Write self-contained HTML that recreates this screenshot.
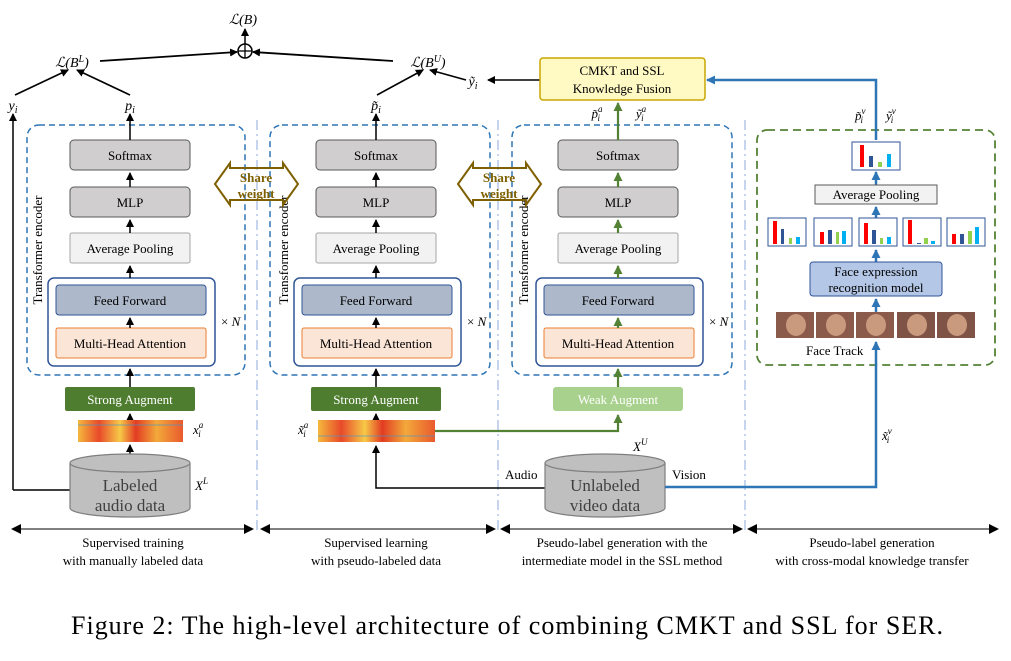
<!DOCTYPE html>
<html><head><meta charset="utf-8"><style>
body{margin:0;background:#fff}
svg text{font-family:"Liberation Serif",serif}
</style></head><body>
<svg width="1011" height="656" viewBox="0 0 1011 656" xmlns="http://www.w3.org/2000/svg">
<defs>
<marker id="ak" markerWidth="8" markerHeight="8" refX="7" refY="4" orient="auto" markerUnits="userSpaceOnUse"><path d="M0,0L8,4L0,8z" fill="#000"/></marker>
<marker id="ab" markerWidth="9" markerHeight="9" refX="8" refY="4.5" orient="auto" markerUnits="userSpaceOnUse"><path d="M0,0L9,4.5L0,9z" fill="#2e75b6"/></marker>
<marker id="ag" markerWidth="9" markerHeight="9" refX="8" refY="4.5" orient="auto" markerUnits="userSpaceOnUse"><path d="M0,0L9,4.5L0,9z" fill="#548235"/></marker>
<marker id="as" markerWidth="10" markerHeight="10" refX="9" refY="5" orient="auto-start-reverse" markerUnits="userSpaceOnUse"><path d="M0,0L10,5L0,10z" fill="#000"/></marker>
<linearGradient id="spec" x1="0" x2="1"><stop offset="0" stop-color="#f5b83d"/><stop offset=".2" stop-color="#e84a2a"/><stop offset=".4" stop-color="#f7c948"/><stop offset=".55" stop-color="#e23c22"/><stop offset=".75" stop-color="#f3a93b"/><stop offset="1" stop-color="#e9592c"/></linearGradient>
</defs>

<g stroke="#b4c7e7" stroke-width="1.5" stroke-dasharray="10,4,2,4">
<line x1="257" y1="120" x2="257" y2="530"/><line x1="498" y1="120" x2="498" y2="530"/><line x1="745" y1="120" x2="745" y2="530"/>
</g>

<text x="243" y="24" font-size="14" text-anchor="middle" font-style="italic">ℒ(B)</text>
<circle cx="245" cy="51" r="7" fill="none" stroke="#000" stroke-width="1.5"/>
<line x1="238" y1="51" x2="252" y2="51" stroke="#000" stroke-width="1.3"/><line x1="245" y1="44" x2="245" y2="58" stroke="#000" stroke-width="1.3"/>
<line x1="245" y1="44" x2="245" y2="29" stroke="#000" stroke-width="1.5" marker-end="url(#ak)"/>
<line x1="100" y1="61" x2="237" y2="52" stroke="#000" stroke-width="1.8" marker-end="url(#ak)"/>
<line x1="393" y1="61" x2="253" y2="52" stroke="#000" stroke-width="1.8" marker-end="url(#ak)"/>
<text x="72" y="67" font-size="14" font-style="italic" text-anchor="middle">ℒ(B<tspan dy="-5" font-size="10">L</tspan><tspan dy="5">)</tspan></text>
<text x="428" y="67" font-size="14" font-style="italic" text-anchor="middle">ℒ(B<tspan dy="-5" font-size="10">U</tspan><tspan dy="5">)</tspan></text>
<line x1="15" y1="95" x2="68" y2="70" stroke="#000" stroke-width="1.6" marker-end="url(#ak)"/>
<line x1="130" y1="95" x2="77" y2="70" stroke="#000" stroke-width="1.6" marker-end="url(#ak)"/>
<line x1="377" y1="95" x2="423" y2="70" stroke="#000" stroke-width="1.6" marker-end="url(#ak)"/>
<line x1="466" y1="80" x2="430" y2="70" stroke="#000" stroke-width="1.6" marker-end="url(#ak)"/>
<text x="13" y="110" font-size="14" font-style="italic" text-anchor="middle">y<tspan font-size="10" dy="3">i</tspan></text>
<text x="130" y="110" font-size="14" font-style="italic" text-anchor="middle">p<tspan font-size="10" dy="3">i</tspan></text>
<text x="376" y="110" font-size="14" font-style="italic" text-anchor="middle">p̃<tspan font-size="10" dy="3">i</tspan></text>
<text x="473" y="86" font-size="14" font-style="italic" text-anchor="middle">ỹ<tspan font-size="10" dy="3">i</tspan></text>
<line x1="540" y1="80" x2="488" y2="80" stroke="#000" stroke-width="1.6" marker-end="url(#ak)"/>

<rect x="540" y="58" width="165" height="42" rx="3" fill="#fff9c4" stroke="#c9a600" stroke-width="1.5"/>
<text x="622" y="75" font-size="13" text-anchor="middle">CMKT and SSL</text>
<text x="622" y="93" font-size="13" text-anchor="middle">Knowledge Fusion</text>
<text x="597" y="118" font-size="13" font-style="italic" text-anchor="middle">p̃<tspan font-size="9" dy="-6">a</tspan><tspan font-size="9" dx="-5" dy="9">i</tspan></text>
<text x="641" y="118" font-size="13" font-style="italic" text-anchor="middle">ỹ<tspan font-size="9" dy="-6">a</tspan><tspan font-size="9" dx="-5" dy="9">i</tspan></text>

<g fill="none" stroke="#2e75b6" stroke-width="1.5" stroke-dasharray="6,4">
<rect x="27" y="125" width="218" height="250" rx="12"/>
<rect x="270" y="125" width="220" height="250" rx="12"/>
<rect x="512" y="125" width="220" height="250" rx="12"/>
</g>
<rect x="757" y="130" width="238" height="235" rx="10" fill="none" stroke="#548235" stroke-width="1.8" stroke-dasharray="8,5"/>

<g id="c1">
<g font-size="13" text-anchor="middle">
<rect x="70" y="140" width="120" height="30" rx="4" fill="#d0cece" stroke="#595959"/><text x="130" y="160">Softmax</text>
<rect x="70" y="187" width="120" height="30" rx="4" fill="#d0cece" stroke="#595959"/><text x="130" y="207">MLP</text>
<rect x="70" y="233" width="120" height="30" rx="2" fill="#f2f2f2" stroke="#a6a6a6"/><text x="130" y="253">Average Pooling</text>
<rect x="48" y="278" width="167" height="88" rx="6" fill="none" stroke="#2f5597" stroke-width="1.5"/>
<rect x="56" y="285" width="150" height="30" rx="3" fill="#adb9ca" stroke="#2f5597"/><text x="130" y="305">Feed Forward</text>
<rect x="56" y="328" width="150" height="30" rx="2" fill="#fbe5d6" stroke="#ed7d31"/><text x="130" y="348">Multi-Head Attention</text>
</g>
<text x="221" y="326" font-size="13">× <tspan font-style="italic">N</tspan></text>
<text transform="translate(42,250) rotate(-90)" font-size="13" text-anchor="middle">Transformer encoder</text>
<g stroke="#000" stroke-width="1.5">
<line x1="130" y1="328" x2="130" y2="318" marker-end="url(#ak)"/>
<line x1="130" y1="278" x2="130" y2="266" marker-end="url(#ak)"/>
<line x1="130" y1="233" x2="130" y2="220" marker-end="url(#ak)"/>
<line x1="130" y1="187" x2="130" y2="173" marker-end="url(#ak)"/>
<line x1="130" y1="140" x2="130" y2="114" marker-end="url(#ak)"/>
</g>
</g>
<use href="#c1" x="246"/>
<g transform="translate(488,0)">
<g font-size="13" text-anchor="middle">
<rect x="70" y="140" width="120" height="30" rx="4" fill="#d0cece" stroke="#595959"/><text x="130" y="160">Softmax</text>
<rect x="70" y="187" width="120" height="30" rx="4" fill="#d0cece" stroke="#595959"/><text x="130" y="207">MLP</text>
<rect x="70" y="233" width="120" height="30" rx="2" fill="#f2f2f2" stroke="#a6a6a6"/><text x="130" y="253">Average Pooling</text>
<rect x="48" y="278" width="167" height="88" rx="6" fill="none" stroke="#2f5597" stroke-width="1.5"/>
<rect x="56" y="285" width="150" height="30" rx="3" fill="#adb9ca" stroke="#2f5597"/><text x="130" y="305">Feed Forward</text>
<rect x="56" y="328" width="150" height="30" rx="2" fill="#fbe5d6" stroke="#ed7d31"/><text x="130" y="348">Multi-Head Attention</text>
</g>
<text x="221" y="326" font-size="13">× <tspan font-style="italic">N</tspan></text>
<text transform="translate(40,250) rotate(-90)" font-size="13" text-anchor="middle">Transformer encoder</text>
<g stroke="#548235" stroke-width="2.2">
<line x1="130" y1="328" x2="130" y2="318" marker-end="url(#ag)"/>
<line x1="130" y1="278" x2="130" y2="266" marker-end="url(#ag)"/>
<line x1="130" y1="233" x2="130" y2="220" marker-end="url(#ag)"/>
<line x1="130" y1="187" x2="130" y2="173" marker-end="url(#ag)"/>
<line x1="130" y1="140" x2="130" y2="103" marker-end="url(#ag)"/>
<line x1="130" y1="387" x2="130" y2="369" marker-end="url(#ag)"/>
</g>
</g>

<g fill="none" stroke="#7f6000" stroke-width="2">
<polygon points="215,184 230,163 230,168 283,168 283,163 298,184 283,205 283,200 230,200 230,205"/>
<polygon points="458,184 473,163 473,168 526,168 526,163 541,184 526,205 526,200 473,200 473,205"/>
</g>
<g font-size="13" font-weight="bold" fill="#7f6000" text-anchor="middle">
<text x="256" y="182">Share</text><text x="256" y="198">weight</text>
<text x="499" y="182">Share</text><text x="499" y="198">weight</text>
</g>

<g font-size="13" text-anchor="middle" fill="#fff">
<rect x="65" y="387" width="130" height="24" rx="2" fill="#4e7d2f"/><text x="130" y="404">Strong Augment</text>
<rect x="311" y="387" width="130" height="24" rx="2" fill="#4e7d2f"/><text x="376" y="404">Strong Augment</text>
<rect x="553" y="387" width="130" height="24" rx="3" fill="#a9d18e"/><text x="618" y="404">Weak Augment</text>
</g>
<g stroke="#000" stroke-width="1.5">
<line x1="130" y1="387" x2="130" y2="369" marker-end="url(#ak)"/>
<line x1="376" y1="387" x2="376" y2="369" marker-end="url(#ak)"/>
<line x1="130" y1="420" x2="130" y2="414" marker-end="url(#ak)"/>
<line x1="376" y1="420" x2="376" y2="414" marker-end="url(#ak)"/>
<line x1="130" y1="455" x2="130" y2="445" marker-end="url(#ak)"/>
<line x1="13" y1="490" x2="13" y2="114" marker-end="url(#ak)"/>
<polyline points="70,490 13,490" fill="none"/>
<polyline points="545,488 376,488 376,446" fill="none" marker-end="url(#ak)"/>
</g>
<rect x="78" y="420" width="105" height="22" fill="url(#spec)"/>
<rect x="318" y="420" width="117" height="22" fill="url(#spec)"/>
<g stroke="#3a9ad9" stroke-width="1" opacity=".6"><line x1="78" y1="425" x2="183" y2="425"/><line x1="318" y1="436" x2="435" y2="436"/></g>
<text x="193" y="434" font-size="13" font-style="italic">x<tspan font-size="9" dy="-6">a</tspan><tspan font-size="9" dx="-5" dy="9">i</tspan></text>
<text x="298" y="434" font-size="13" font-style="italic">x̃<tspan font-size="9" dy="-6">a</tspan><tspan font-size="9" dx="-5" dy="9">i</tspan></text>
<polyline points="435,431 618,431 618,415" fill="none" stroke="#548235" stroke-width="2.2" marker-end="url(#ag)"/>

<g fill="#bfbfbf" stroke="#7f7f7f" stroke-width="1.2">
<path d="M70,463 L70,508 A60,9 0 0 0 190,508 L190,463"/>
<ellipse cx="130" cy="463" rx="60" ry="9"/>
<path d="M545,463 L545,508 A60,9 0 0 0 665,508 L665,463"/>
<ellipse cx="605" cy="463" rx="60" ry="9"/>
</g>
<g font-size="17" fill="#404040" text-anchor="middle">
<text x="130" y="491">Labeled</text><text x="130" y="511">audio data</text>
<text x="605" y="491">Unlabeled</text><text x="605" y="511">video data</text>
</g>
<text x="195" y="490" font-size="13" font-style="italic">X<tspan font-size="9" dy="-6">L</tspan></text>
<text x="633" y="451" font-size="13" font-style="italic">X<tspan font-size="9" dy="-6">U</tspan></text>
<text x="505" y="479" font-size="13">Audio</text>
<text x="672" y="479" font-size="13">Vision</text>

<polyline points="665,487 876,487 876,342" fill="none" stroke="#2e75b6" stroke-width="2.5" marker-end="url(#ab)"/>
<text x="882" y="440" font-size="13" font-style="italic">x̃<tspan font-size="9" dy="-6">v</tspan><tspan font-size="9" dx="-5" dy="9">i</tspan></text>
<polyline points="876,140 876,80 707,80" fill="none" stroke="#2e75b6" stroke-width="2.5" marker-end="url(#ab)"/>
<text x="855" y="120" font-size="13" font-style="italic">p̃<tspan font-size="9" dy="-6">v</tspan><tspan font-size="9" dx="-5" dy="9">i</tspan></text>
<text x="886" y="120" font-size="13" font-style="italic">ỹ<tspan font-size="9" dy="-6">v</tspan><tspan font-size="9" dx="-5" dy="9">i</tspan></text>
<g stroke="#2e75b6" stroke-width="2.5">
<line x1="876" y1="312" x2="876" y2="299" marker-end="url(#ab)"/>
<line x1="876" y1="262" x2="876" y2="250" marker-end="url(#ab)"/>
<line x1="876" y1="218" x2="876" y2="207" marker-end="url(#ab)"/>
<line x1="876" y1="185" x2="876" y2="172" marker-end="url(#ab)"/>
</g>
<rect x="810" y="262" width="132" height="34" rx="3" fill="#b4c7e7" stroke="#2f5597"/>
<text x="876" y="276" font-size="13" text-anchor="middle">Face expression</text>
<text x="876" y="292" font-size="13" text-anchor="middle">recognition model</text>
<rect x="815" y="185" width="122" height="19" fill="#f2f2f2" stroke="#595959"/>
<text x="876" y="199" font-size="13" text-anchor="middle">Average Pooling</text>
<g>
<rect x="852" y="142" width="48" height="28" fill="#fff" stroke="#2f5597"/>
<rect x="768" y="218" width="38" height="28" fill="#fff" stroke="#2f5597"/>
<rect x="814" y="218" width="38" height="28" fill="#fff" stroke="#2f5597"/>
<rect x="859" y="218" width="38" height="28" fill="#fff" stroke="#2f5597"/>
<rect x="903" y="218" width="38" height="28" fill="#fff" stroke="#2f5597"/>
<rect x="947" y="218" width="38" height="28" fill="#fff" stroke="#2f5597"/>
</g>
<g stroke="none">
<rect x="860" y="145" width="4" height="22" fill="#f00"/><rect x="869" y="156" width="4" height="11" fill="#2f5597"/><rect x="878" y="162" width="4" height="5" fill="#92d050"/><rect x="887" y="154" width="4" height="13" fill="#00b0f0"/>
<rect x="773" y="221" width="4" height="23" fill="#f00"/><rect x="781" y="229" width="3" height="15" fill="#2f5597"/><rect x="789" y="238" width="3" height="6" fill="#92d050"/><rect x="796" y="237" width="4" height="7" fill="#00b0f0"/>
<rect x="820" y="232" width="4" height="12" fill="#f00"/><rect x="828" y="230" width="4" height="14" fill="#2f5597"/><rect x="836" y="232" width="3" height="12" fill="#92d050"/><rect x="842" y="231" width="4" height="13" fill="#00b0f0"/>
<rect x="864" y="223" width="4" height="21" fill="#f00"/><rect x="872" y="230" width="4" height="14" fill="#2f5597"/><rect x="880" y="238" width="3" height="6" fill="#92d050"/><rect x="887" y="237" width="4" height="7" fill="#00b0f0"/>
<rect x="908" y="220" width="4" height="24" fill="#f00"/><rect x="917" y="243" width="4" height="1" fill="#2f5597"/><rect x="924" y="238" width="4" height="6" fill="#92d050"/><rect x="931" y="241" width="4" height="3" fill="#00b0f0"/>
<rect x="952" y="234" width="4" height="10" fill="#f00"/><rect x="960" y="234" width="4" height="10" fill="#2f5597"/><rect x="968" y="231" width="4" height="13" fill="#92d050"/><rect x="975" y="227" width="4" height="17" fill="#00b0f0"/>
</g>
<g>
<rect x="776" y="312" width="38" height="26" fill="#8a5a4a"/><ellipse cx="796" cy="325" rx="10" ry="11" fill="#c99a7e"/>
<rect x="816" y="312" width="38" height="26" fill="#8a5a4a"/><ellipse cx="836" cy="325" rx="10" ry="11" fill="#c99a7e"/>
<rect x="856" y="312" width="38" height="26" fill="#8a5a4a"/><ellipse cx="876" cy="325" rx="10" ry="11" fill="#c99a7e"/>
<rect x="897" y="312" width="38" height="26" fill="#7f5446"/><ellipse cx="917" cy="325" rx="10" ry="11" fill="#c99a7e"/>
<rect x="937" y="312" width="38" height="26" fill="#7f5446"/><ellipse cx="957" cy="325" rx="10" ry="11" fill="#c99a7e"/>
</g>
<text x="806" y="355" font-size="13">Face Track</text>

<g stroke="#000" stroke-width="1">
<line x1="12" y1="529" x2="253" y2="529" marker-start="url(#as)" marker-end="url(#as)"/>
<line x1="261" y1="529" x2="495" y2="529" marker-start="url(#as)" marker-end="url(#as)"/>
<line x1="501" y1="529" x2="742" y2="529" marker-start="url(#as)" marker-end="url(#as)"/>
<line x1="748" y1="529" x2="998" y2="529" marker-start="url(#as)" marker-end="url(#as)"/>
</g>
<g font-size="13" text-anchor="middle">
<text x="133" y="547">Supervised training</text><text x="133" y="565">with manually labeled data</text>
<text x="376" y="547">Supervised learning</text><text x="376" y="565">with pseudo-labeled data</text>
<text x="622" y="547">Pseudo-label generation with the</text><text x="622" y="565">intermediate model in the SSL method</text>
<text x="872" y="547">Pseudo-label generation</text><text x="872" y="565">with cross-modal knowledge transfer</text>
</g>
<text x="507" y="634" font-size="26" text-anchor="middle" textLength="872" lengthAdjust="spacing">Figure 2: The high-level architecture of combining CMKT and SSL for SER.</text>
</svg>
</body></html>
